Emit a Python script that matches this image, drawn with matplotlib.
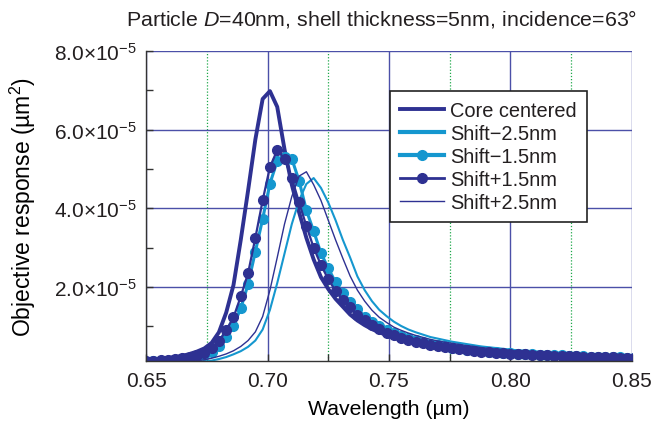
import numpy as np
import matplotlib
matplotlib.use("Agg")
import matplotlib.pyplot as plt
from matplotlib.ticker import MultipleLocator, FuncFormatter

plt.rcParams["font.family"] = ["Liberation Sans", "DejaVu Sans"]
plt.rcParams["mathtext.fontset"] = "custom"
plt.rcParams["mathtext.rm"] = "Liberation Sans"
plt.rcParams["mathtext.it"] = "Liberation Sans:italic"
plt.rcParams["text.color"] = "#231f20"

# wavelength samples (um), step 0.003
wavelength = np.round(0.65 + 0.003 * np.arange(68), 3)

# objective response, units of 1e-5 um^2
core_centered = [
    0.15, 0.16, 0.18, 0.20, 0.22, 0.25, 0.30, 0.36, 0.44, 0.58, 0.85, 1.35, 2.05, 3.20, 4.45, 5.75, 6.78,
    6.98, 6.58, 5.50, 4.60, 3.90, 3.25, 2.70, 2.25, 1.95, 1.70, 1.50, 1.30, 1.15, 1.03, 0.93, 0.85, 0.78,
    0.72, 0.66, 0.61, 0.57, 0.53, 0.50, 0.47, 0.44, 0.42, 0.40, 0.38, 0.36, 0.345, 0.33, 0.315, 0.30, 0.29,
    0.28, 0.27, 0.26, 0.255, 0.25, 0.24, 0.235, 0.23, 0.225, 0.22, 0.215, 0.21, 0.205, 0.20, 0.195, 0.19, 0.19,
]
shift_m25 = [
    0.03, 0.03, 0.04, 0.04, 0.05, 0.06, 0.07, 0.08, 0.10, 0.13, 0.17, 0.22, 0.29, 0.37, 0.48, 0.64, 0.92,
    1.42, 2.10, 2.85, 3.60, 4.20, 4.62, 4.77, 4.52, 4.15, 3.70, 3.20, 2.75, 2.27, 1.92, 1.64, 1.42, 1.26,
    1.12, 1.01, 0.92, 0.85, 0.79, 0.73, 0.69, 0.65, 0.61, 0.58, 0.55, 0.52, 0.49, 0.47, 0.45, 0.43, 0.41,
    0.39, 0.38, 0.37, 0.355, 0.345, 0.335, 0.325, 0.315, 0.305, 0.295, 0.29, 0.28, 0.27, 0.265, 0.26, 0.25, 0.245,
]
shift_m15 = [
    0.10, 0.11, 0.12, 0.13, 0.14, 0.16, 0.18, 0.21, 0.26, 0.34, 0.50, 0.74, 1.02, 1.46, 2.07, 2.90, 3.73,
    4.63, 5.20, 5.30, 5.26, 4.70, 3.95, 3.42, 2.86, 2.48, 2.12, 1.86, 1.62, 1.44, 1.25, 1.12, 1.01, 0.91,
    0.83, 0.76, 0.70, 0.65, 0.60, 0.56, 0.52, 0.49, 0.46, 0.44, 0.41, 0.39, 0.37, 0.36, 0.34, 0.33, 0.32,
    0.31, 0.30, 0.29, 0.28, 0.27, 0.265, 0.26, 0.25, 0.245, 0.24, 0.23, 0.225, 0.22, 0.215, 0.21, 0.205, 0.205,
]
shift_p15 = [
    0.12, 0.13, 0.14, 0.15, 0.17, 0.19, 0.22, 0.26, 0.33, 0.44, 0.62, 0.90, 1.23, 1.76, 2.35, 3.25, 4.20,
    5.05, 5.48, 5.26, 4.77, 4.15, 3.55, 3.00, 2.56, 2.20, 1.90, 1.68, 1.48, 1.30, 1.15, 1.03, 0.93, 0.84,
    0.77, 0.71, 0.65, 0.61, 0.57, 0.53, 0.50, 0.47, 0.45, 0.42, 0.40, 0.38, 0.36, 0.35, 0.33, 0.32, 0.31,
    0.30, 0.29, 0.28, 0.27, 0.26, 0.255, 0.25, 0.24, 0.235, 0.23, 0.225, 0.22, 0.215, 0.21, 0.205, 0.20, 0.20,
]
shift_p25 = [
    0.05, 0.05, 0.06, 0.07, 0.08, 0.09, 0.11, 0.13, 0.15, 0.19, 0.24, 0.30, 0.38, 0.49, 0.64, 0.86, 1.25,
    1.92, 2.75, 3.60, 4.30, 4.82, 4.93, 4.60, 4.20, 3.70, 3.20, 2.73, 2.28, 1.92, 1.64, 1.41, 1.23, 1.10,
    0.98, 0.90, 0.83, 0.77, 0.72, 0.67, 0.63, 0.60, 0.57, 0.54, 0.51, 0.49, 0.46, 0.44, 0.42, 0.41, 0.39,
    0.37, 0.36, 0.35, 0.34, 0.33, 0.32, 0.31, 0.30, 0.29, 0.28, 0.275, 0.27, 0.26, 0.255, 0.25, 0.245, 0.24,
]

dark = "#2e3192"
light = "#1597cf"
scale = 1e-5

fig = plt.figure(figsize=(6.53, 4.31), dpi=100)
ax = fig.add_axes([0.2236, 0.1601, 0.7442, 0.7193])

ax.plot(wavelength, np.array(core_centered) * scale, color=dark, lw=2.8, label="Core centered")
ax.plot(wavelength, np.array(shift_m25) * scale, color=light, lw=1.5, label="Shift\u22122.5nm")
ax.plot(wavelength, np.array(shift_m15) * scale, color=light, lw=2.2, marker="o", ms=7,
        label="Shift\u22121.5nm")
ax.plot(wavelength, np.array(shift_p15) * scale, color=dark, lw=1.6, marker="o", ms=7,
        label="Shift+1.5nm")
ax.plot(wavelength, np.array(shift_p25) * scale, color=dark, lw=1.0, label="Shift+2.5nm")

ax.set_xlim(0.65, 0.85)
ax.set_ylim(0.12e-5, 8e-5)

ax.xaxis.set_major_locator(MultipleLocator(0.05))
ax.xaxis.set_minor_locator(MultipleLocator(0.025))
ax.yaxis.set_major_locator(MultipleLocator(2e-5))
ax.yaxis.set_minor_locator(MultipleLocator(1e-5))
ax.xaxis.set_major_formatter(FuncFormatter(lambda v, p: f"{v:.2f}"))
ax.yaxis.set_major_formatter(FuncFormatter(lambda v, p: f"{v / 1e-5:.1f}\u00d710$^{{-5}}$"))

ax.grid(which="major", color="#4b50a8", lw=1.0)
ax.grid(which="minor", axis="x", color="#1fa84a", lw=0.9, ls=(0, (1, 1.5)))
ax.set_axisbelow(True)
# no grid line on the plot edges
for gl in ax.xaxis.get_gridlines():
    if abs(gl.get_xdata()[0] - 0.85) < 1e-6 or abs(gl.get_xdata()[0] - 0.65) < 1e-6:
        gl.set_visible(False)
for gl in ax.yaxis.get_gridlines():
    if abs(gl.get_ydata()[0] - 8e-5) < 1e-12:
        gl.set_visible(False)

ax.tick_params(which="both", direction="in", length=5, width=1, color="#333333",
               labelsize=15, labelcolor="#231f20")
ax.tick_params(axis="y", pad=6.5)
ax.tick_params(axis="x", pad=7)
ax.spines["top"].set_visible(False)
ax.spines["right"].set_visible(False)
for s in ("left", "bottom"):
    ax.spines[s].set_color("#333333")
    ax.spines[s].set_linewidth(1.0)

ax.set_xlabel("Wavelength (\u00b5m)", fontsize=15.3, labelpad=7)
ax.set_ylabel("Objective response (\u00b5m$^{2}$)", fontsize=16.5, labelpad=12)
fig.text(382 / 653, 1 - 19 / 431, "Particle $D$=40nm, shell thickness=5nm, incidence=63\u00b0",
         ha="center", va="center", fontsize=15.4)

leg = ax.legend(loc="upper left", bbox_to_anchor=(0.502, 0.871), fontsize=14.4, frameon=True,
                fancybox=False, edgecolor="#222222", framealpha=1, borderaxespad=0,
                handlelength=2.2, handletextpad=0.3, labelspacing=0.2, borderpad=0.5)
leg.get_frame().set_linewidth(1.2)
for h, w in zip(leg.legend_handles, [2.8, 3.0, 3.0, 2.0, 1.0]):
    h.set_linewidth(w)

fig.savefig("out.png", dpi=100)
